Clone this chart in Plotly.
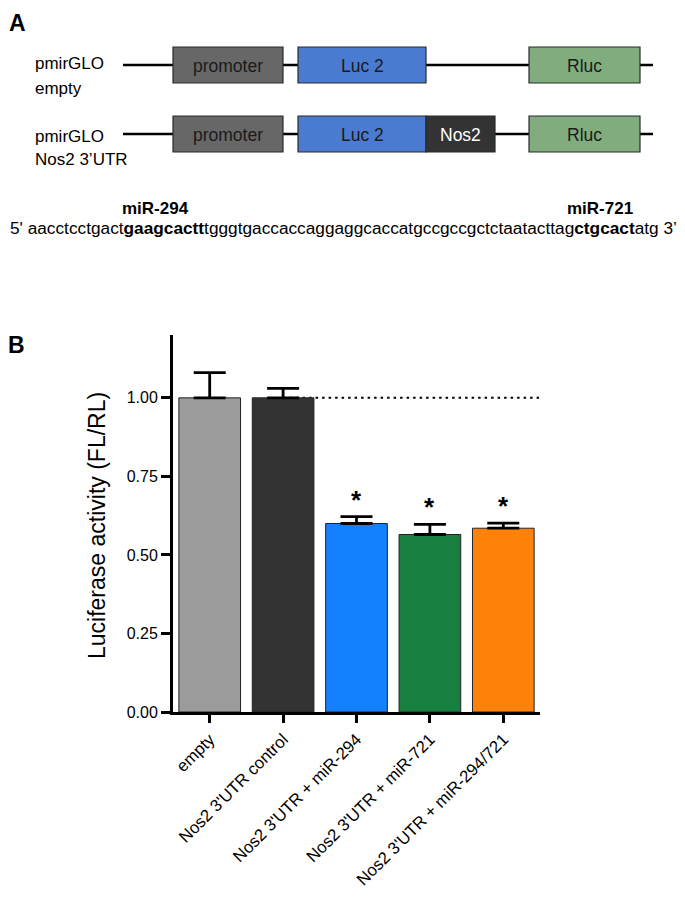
import plotly.graph_objects as go

# ---------------- data ----------------
categories = ["empty", "Nos2 3'UTR control", "Nos2 3'UTR + miR-294",
              "Nos2 3'UTR + miR-721", "Nos2 3'UTR + miR-294/721"]
means = [1.00, 1.00, 0.60, 0.565, 0.585]
sem = [0.08, 0.03, 0.022, 0.032, 0.016]
significant = [False, False, True, True, True]
bar_colors = ["#9b9b9b", "#333333", "#1480fe", "#178040", "#fe8209"]
y_tickvals = [0, 0.25, 0.5, 0.75, 1.0]
y_ticktext = ["0.00", "0.25", "0.50", "0.75", "1.00"]
reference_level = 1.0

construct_lines = [["pmirGLO", "empty"], ["pmirGLO", "Nos2 3\u2019UTR"]]
element_names = ["promoter", "Luc 2", "Nos2", "Rluc"]
sequence_text = ("5' aacctcctgact<b>gaagcactt</b>tgggtgaccaccaggaggcaccatgccgccgctctaatacttag"
                 "<b>ctgcact</b>atg 3\u2019")
site_labels = ["miR-294", "miR-721"]

# ---------------- layout helpers (screen pixels -> paper) ----------------
VW, VH = 685, 899          # browser window
BODY = 8                   # default page margin around the figure
FW, FH = VW - 2 * BODY, VH - 2 * BODY

def px(x):
    return (x - BODY) / FW

def py(y):
    return 1 - (y - BODY) / FH

FONT = "Liberation Sans, Arial, sans-serif"

fig = go.Figure()
fig.add_trace(go.Bar(
    x=categories, y=means,
    marker=dict(color=bar_colors, line=dict(color="#222222", width=1)),
    error_y=dict(type="data", symmetric=False, array=sem, arrayminus=[0] * len(sem),
                 color="black", thickness=2.8, width=16),
    width=0.84,
))

shapes = []
annotations = []

def text(x, y, t, size, color="black", xanchor="center", yanchor="middle", angle=0):
    annotations.append(dict(x=px(x), y=py(y), xref="paper", yref="paper", text=t,
                            showarrow=False, xanchor=xanchor, yanchor=yanchor,
                            textangle=angle, font=dict(family=FONT, size=size, color=color)))

# dotted reference line
shapes.append(dict(type="line", xref="x", yref="y", x0=1, x1=4.5,
                   y0=reference_level, y1=reference_level,
                   line=dict(color="black", width=2, dash="2.5px,4px"), layer="below"))

# significance stars
for c, m, e, s in zip(categories, means, sem, significant):
    if s:
        annotations.append(dict(x=c, y=m + e, xref="x", yref="y", text="<b>*</b>",
                                showarrow=False, xanchor="center", yanchor="bottom",
                                font=dict(family=FONT, size=26, color="black")))

text(97, 526, "Luciferase activity (FL/RL)", 23, angle=-90)
text(17, 8, "<b>A</b>", 23, yanchor="top")
text(16, 345, "<b>B</b>", 23)

# ---------------- diagram (panel A) ----------------
row_y = [65, 134]
row_label_y = [[63, 89], [136, 160]]
box_h = 36
elem_fill = {"promoter": "#676767", "Luc 2": "#4a7bd1", "Nos2": "#333333", "Rluc": "#80ac7e"}
elem_text = {"promoter": "#1a1a1a", "Luc 2": "#1a1a1a", "Nos2": "#ffffff", "Rluc": "#1a1a1a"}
elem_x = {"promoter": (173, 283), "Luc 2": (298, 426), "Nos2": (426, 495), "Rluc": (529, 640)}
row_elems = [["promoter", "Luc 2", "Rluc"], ["promoter", "Luc 2", "Nos2", "Rluc"]]

for yc, lines, ly, elems in zip(row_y, construct_lines, row_label_y, row_elems):
    shapes.append(dict(type="line", xref="paper", yref="paper",
                       x0=px(123), x1=px(653), y0=py(yc), y1=py(yc),
                       line=dict(color="black", width=2.5), layer="below"))
    for t, yy in zip(lines, ly):
        text(33, yy, t, 17, xanchor="left")
    for el in elems:
        x0, x1 = elem_x[el]
        shapes.append(dict(type="rect", xref="paper", yref="paper",
                           x0=px(x0), x1=px(x1), y0=py(yc - box_h / 2), y1=py(yc + box_h / 2),
                           fillcolor=elem_fill[el], line=dict(color="#2a2a2a", width=1.2)))
        text((x0 + x1) / 2, yc + 1, el, 17.5, color=elem_text[el])

text(155, 209, "<b>" + site_labels[0] + "</b>", 17)
text(600, 209, "<b>" + site_labels[1] + "</b>", 17)
text(343, 228, sequence_text, 17.25)

fig.update_layout(
    width=FW, height=FH,
    margin=dict(l=0, r=0, t=0, b=0, autoexpand=False),
    paper_bgcolor="white", plot_bgcolor="white",
    showlegend=False,
    shapes=shapes,
    annotations=annotations,
    xaxis=dict(domain=[px(173), px(540)], range=[-0.5, 4.5], automargin=False,
               showline=True, linecolor="black", linewidth=3,
               ticks="outside", ticklen=8, tickwidth=3, tickcolor="black",
               tickangle=-45, tickfont=dict(family=FONT, size=16.8, color="black"),
               showgrid=False, zeroline=False),
    yaxis=dict(domain=[py(712), py(335)], range=[0, 1.2], automargin=False,
               tickvals=y_tickvals, ticktext=y_ticktext,
               showline=True, linecolor="black", linewidth=3,
               ticks="outside", ticklen=9, tickwidth=3, tickcolor="black",
               tickfont=dict(family=FONT, size=16, color="black"),
               showgrid=False, zeroline=False),
)

fig.write_html("out.html")
